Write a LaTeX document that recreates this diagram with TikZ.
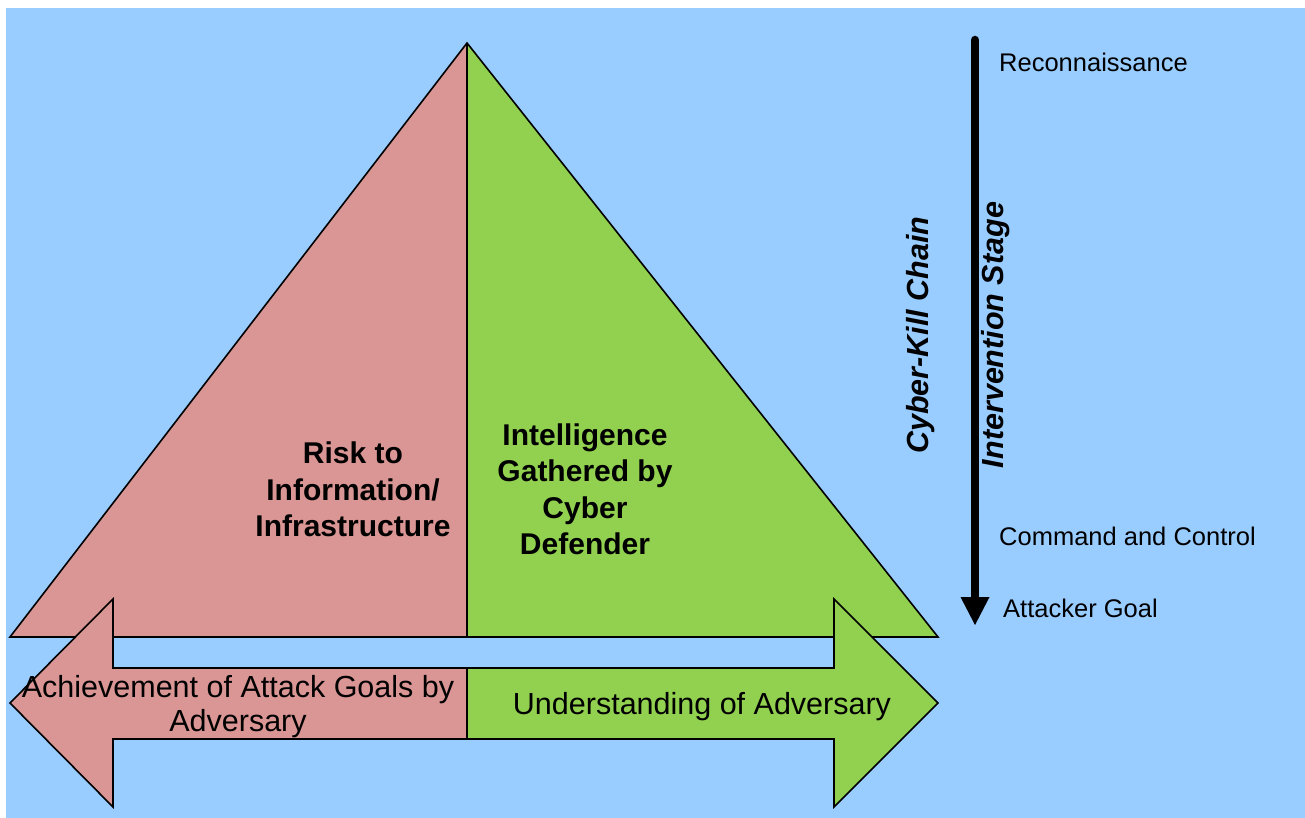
\documentclass[tikz,border=0pt]{standalone}
\usepackage{fontspec}
\setmainfont{Liberation Sans}
\definecolor{bgblue}{RGB}{153,204,255}
\definecolor{riskpink}{RGB}{217,150,148}
\definecolor{intgreen}{RGB}{146,208,80}
\begin{document}
\begin{tikzpicture}[x=1pt,y=-1pt,
  shapeline/.style={draw=black,line width=1.6pt,line join=miter},
  bigbold/.style={font=\fontsize{30}{36.5}\selectfont\bfseries,align=center,inner sep=0pt},
  bigtext/.style={font=\fontsize{30.5}{34}\selectfont,align=center,inner sep=0pt},
  stagetext/.style={font=\fontsize{25.5}{30}\selectfont,anchor=west,inner sep=0pt},
  sidetext/.style={font=\fontsize{30.5}{36}\selectfont\bfseries\itshape,rotate=90,inner sep=0pt}]
\useasboundingbox (0,0) rectangle (1305,818);
\fill[bgblue] (6,8) rectangle (1305,818);
% triangle halves
\coordinate (apex) at (467,43);
\coordinate (bl) at (10,637);
\coordinate (br) at (938,637);
\coordinate (bm) at (467,637);
\fill[riskpink] (apex) -- (bl) -- (bm) -- cycle;
\fill[intgreen] (apex) -- (br) -- (bm) -- cycle;
\draw[shapeline] (apex) -- (bl) -- (br) -- cycle;
\draw[shapeline] (apex) -- (bm);
% double arrow
\fill[riskpink] (467,668) -- (113,668) -- (113,599) -- (10,703) -- (113,807) -- (113,739) -- (467,739) -- cycle;
\fill[intgreen] (467,668) -- (834,668) -- (834,599) -- (938,703) -- (834,807) -- (834,739) -- (467,739) -- cycle;
\draw[shapeline] (113,668) -- (113,599) -- (10,703) -- (113,807) -- (113,739) -- (834,739) -- (834,807) -- (938,703) -- (834,599) -- (834,668) -- cycle;
\draw[shapeline] (467,668) -- (467,739);
% texts
\node[bigbold] (risk) at (353,489.5) {Risk to\\Information/\\Infrastructure};
\node[bigbold] (intel) at (585,489.5) {Intelligence\\Gathered by\\Cyber\\Defender};
\node[bigtext] (achieve) at (238,707) {Achievement of Attack Goals by\\Adversary};
\node[bigtext] (understand) at (702,707) {Understanding of Adversary};
% kill chain arrow
\coordinate (ktop) at (975,40);
\coordinate (khead) at (975,597);
\draw[line width=8.5pt,line cap=round] (ktop) -- (975,598);
\fill[black] (960.5,597) -- (989.5,597) -- (975,625) -- cycle;
\node[stagetext] (recon) at (999,62) {Reconnaissance};
\node[stagetext] (cc) at (999,536) {Command and Control};
\node[stagetext] (goal) at (1003,608) {Attacker Goal};
\node[sidetext] (ckc) at (921,335) {Cyber-Kill Chain};
\node[sidetext] (istage) at (996,335) {Intervention Stage};
\end{tikzpicture}
\end{document}
